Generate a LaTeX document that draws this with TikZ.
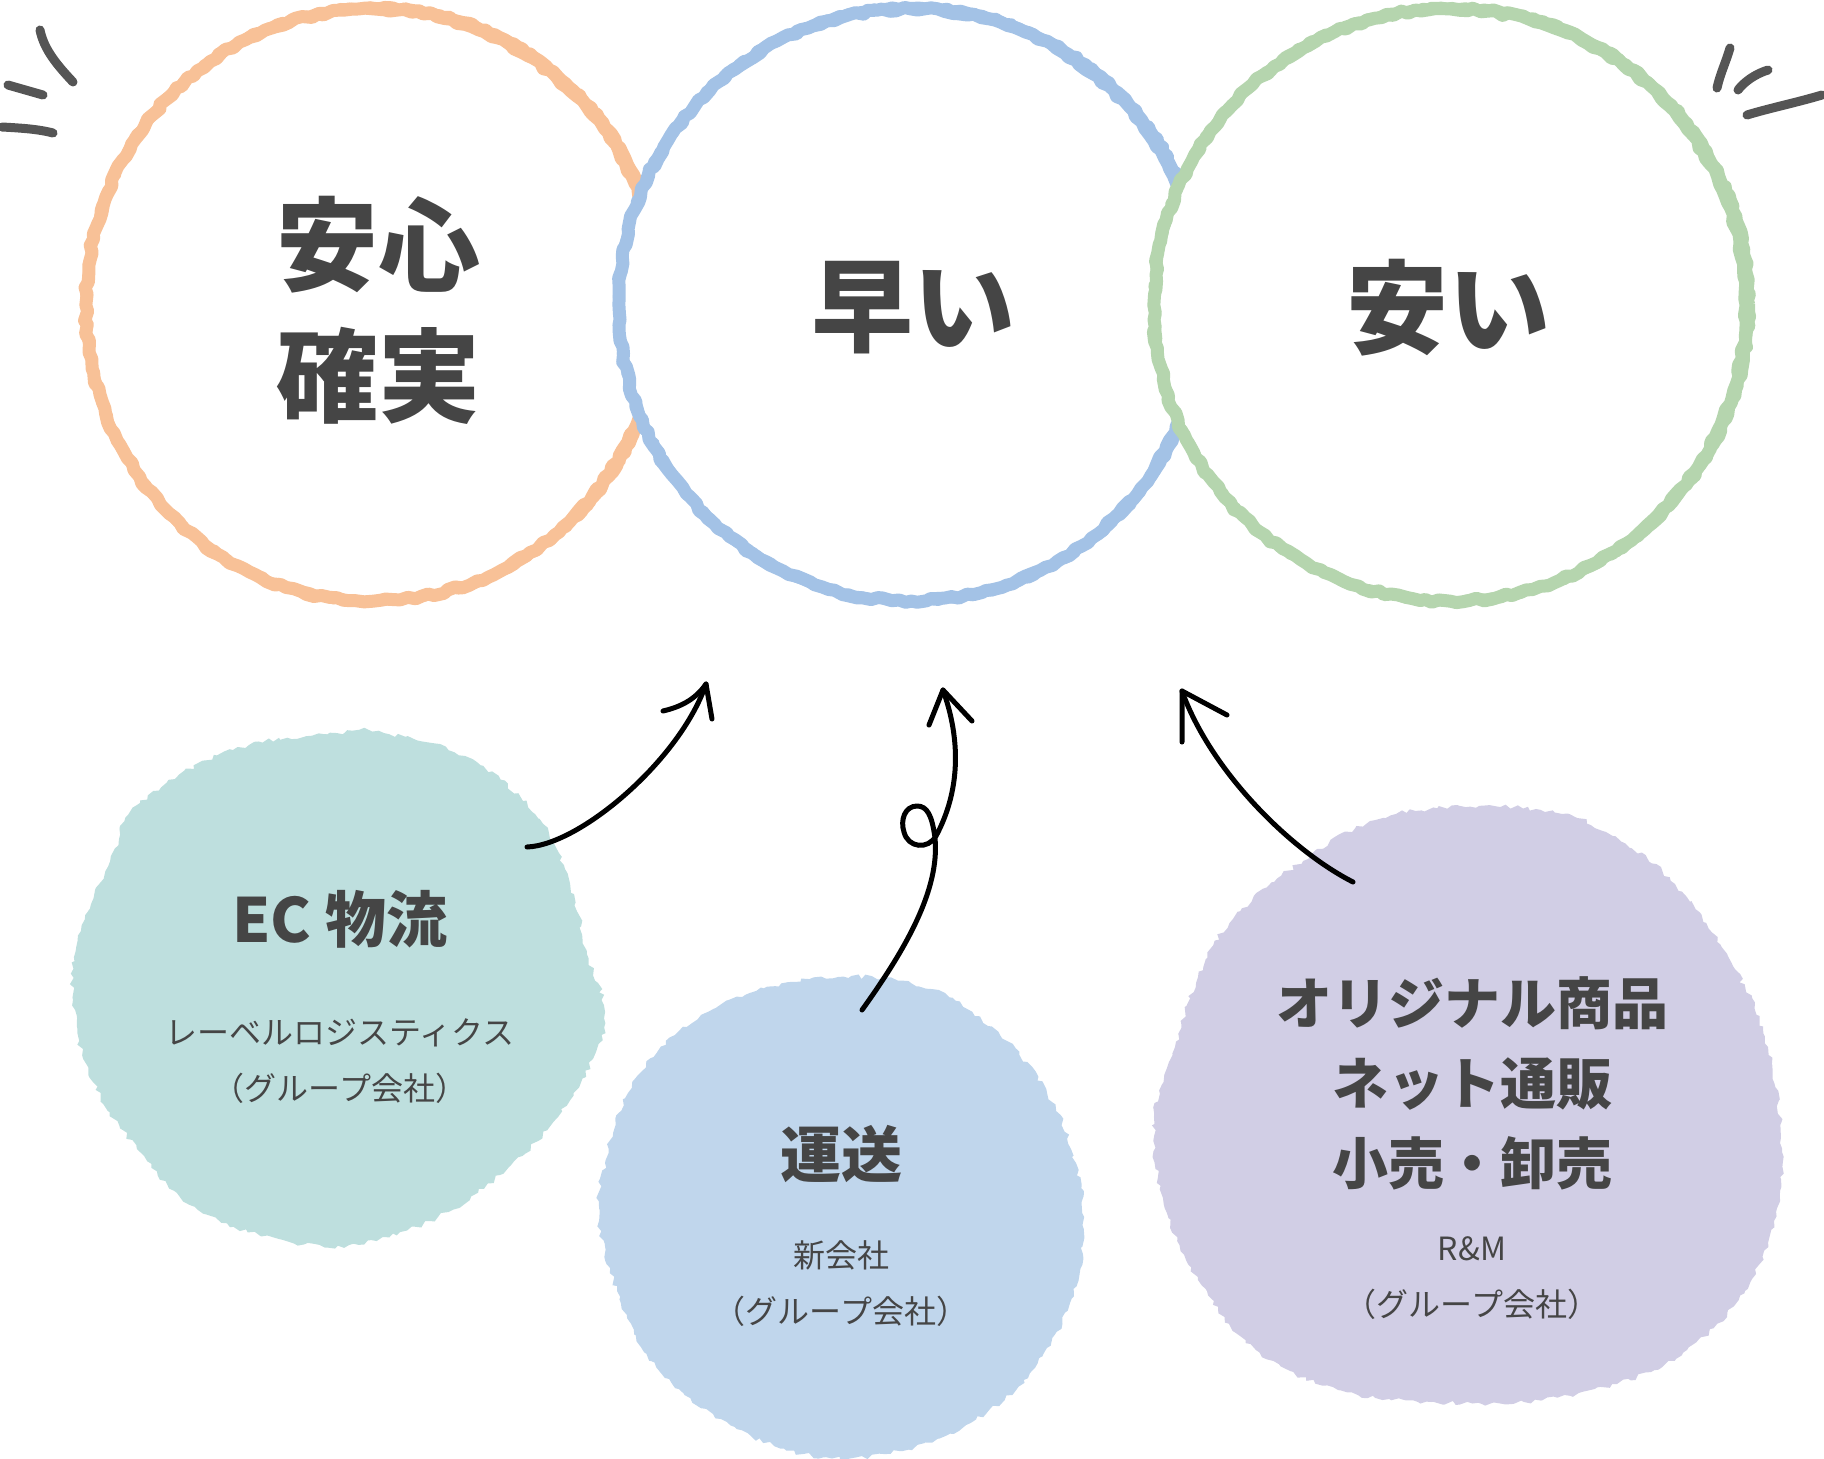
\documentclass[tikz,border=0pt]{standalone}
\usepackage{fontspec}
\newfontfamily\jp{Noto Sans CJK JP}
\usetikzlibrary{decorations.pathmorphing}
\definecolor{ringorange}{HTML}{F8C197}
\definecolor{ringblue}{HTML}{A3C2E6}
\definecolor{ringgreen}{HTML}{B5D5AE}
\definecolor{blobteal}{HTML}{BEDFDE}
\definecolor{blobblue}{HTML}{C0D6EC}
\definecolor{bloblav}{HTML}{D1CEE5}
\definecolor{txt}{HTML}{454545}
\definecolor{tickgray}{HTML}{555555}
\begin{document}
\begin{tikzpicture}[x=1pt,y=-1pt,
  ringA/.style={line width=13pt, line join=round, decorate, decoration={random steps, segment length=7pt, amplitude=1.8pt}},
  ringB/.style={line width=10pt, line join=round, decorate, decoration={random steps, segment length=5pt, amplitude=1.4pt}},
  blob/.style={decorate, decoration={random steps, segment length=5pt, amplitude=2.4pt}},
  bigtext/.style={font=\jp\bfseries\fontsize{102}{131}\selectfont, text=txt, align=center, inner sep=0pt},
  headtext/.style={font=\jp\bfseries\fontsize{56}{80}\selectfont, text=txt, align=center, inner sep=0pt},
  headbig/.style={font=\jp\bfseries\fontsize{61}{80}\selectfont, text=txt, align=center, inner sep=0pt},
  subtext/.style={font=\jp\fontsize{32}{56}\selectfont, text=txt, align=center, inner sep=0pt},
  arrowline/.style={line width=5pt, line cap=round, line join=round, draw=black},
  tickmark/.style={line width=9pt, line cap=round, line join=round, draw=tickgray},
]
\pgfmathsetseed{12}
\useasboundingbox (0,0) rectangle (1824,1459);

% rings (white inside, later ones cover earlier ones)
\filldraw[ringA, draw=ringorange, fill=white] (373,305) ellipse [x radius=287pt, y radius=296pt];
\draw[ringB, draw=ringorange] (375,304) ellipse [x radius=289pt, y radius=297pt];
\filldraw[ringA, draw=ringblue, fill=white] (911,305) ellipse [x radius=292pt, y radius=296pt];
\draw[ringB, draw=ringblue] (913,304) ellipse [x radius=294pt, y radius=297pt];
\filldraw[ringA, draw=ringgreen, fill=white] (1450,305) ellipse [x radius=296pt, y radius=296pt];
\draw[ringB, draw=ringgreen] (1452,304) ellipse [x radius=298pt, y radius=297pt];

\node[bigtext] (anshin) at (378,310) {安心\\確実};
\node[bigtext] (hayai) at (913,308) {早い};
\node[bigtext] (yasui) at (1448,308) {安い};

% tick marks
\draw[tickmark] (40,30) .. controls (44,50) and (58,66) .. (73,82);
\draw[tickmark] (8,85) -- (43,95);
\draw[tickmark] (2,127) .. controls (20,128) and (38,129) .. (53,133);
\draw[tickmark] (1730,48) .. controls (1726,62) and (1720,74) .. (1717,88);
\draw[tickmark] (1768,70) .. controls (1755,74) and (1744,82) .. (1738,90);
\draw[tickmark] (1822,95) .. controls (1795,103) and (1770,108) .. (1747,115);

% blobs
\fill[blobteal, blob] plot[smooth cycle, tension=0.7] coordinates {
 (337,733) (233,750) (140,803) (110,861) (81,931) (73,1000) (93,1082) (140,1152) (198,1210) (279,1239) (349,1245) (430,1221) (500,1175) (558,1117) (593,1059) (605,1012) (587,954) (570,884) (535,814) (465,756) (384,733)};
\fill[blobblue, blob] plot[smooth cycle, tension=0.7] coordinates {
 (838,977) (745,995) (675,1035) (628,1093) (605,1163) (599,1221) (617,1291) (651,1361) (721,1419) (803,1454) (884,1454) (966,1425) (1030,1373) (1070,1303) (1084,1233) (1076,1163) (1047,1093) (1000,1035) (931,989)};
\fill[bloblav, blob] plot[smooth cycle, tension=0.7] coordinates {
 (1396,814) (1303,861) (1233,919) (1198,977) (1175,1047) (1154,1117) (1163,1198) (1198,1280) (1256,1350) (1338,1390) (1431,1402) (1524,1402) (1617,1384) (1687,1350) (1745,1291) (1774,1221) (1782,1152) (1768,1047) (1733,966) (1675,884) (1606,832) (1536,809)};

% blob texts
\node[headbig] (ec) at (340,919) {EC 物流};
\node[subtext] (ecsub) at (340,1061) {レーベルロジスティクス\\（グループ会社）};
\node[headbig] (unso) at (841,1154) {運送};
\node[subtext] (unsosub) at (841,1284) {新会社\\（グループ会社）};
\node[headtext] (orig) at (1472,1083) {オリジナル商品\\ネット通販\\小売・卸売};
\node[subtext] (origsub) at (1472,1278) {R\&M\\（グループ会社）};

% arrows
\coordinate (a1s) at (527,847);
\coordinate (a1t) at (706,684);
\coordinate (a1l) at (663,711);
\coordinate (a1r) at (712,719);
\draw[arrowline] (a1s) .. controls (580,845) and (680,760) .. (a1t);
\draw[arrowline] (a1l) .. controls (680,707) and (695,700) .. (a1t) -- (a1r);

\coordinate (a2s) at (862,1010);
\coordinate (a2t) at (943,690);
\coordinate (a2l) at (929,725);
\coordinate (a2r) at (972,721);
\draw[arrowline] (a2s) .. controls (905,950) and (940,890) .. (935,838)
  .. controls (932,815) and (927,806) .. (917,806)
  .. controls (905,806) and (900,820) .. (904,832)
  .. controls (908,848) and (928,850) .. (936,836)
  .. controls (950,810) and (968,760) .. (a2t);
\draw[arrowline] (a2l) -- (a2t) -- (a2r);

\coordinate (a3s) at (1353,882);
\coordinate (a3t) at (1182,691);
\coordinate (a3l) at (1182,742);
\coordinate (a3r) at (1227,715);
\draw[arrowline] (a3s) .. controls (1290,850) and (1210,770) .. (a3t);
\draw[arrowline] (a3l) -- (a3t) -- (a3r);
\end{tikzpicture}
\end{document}
